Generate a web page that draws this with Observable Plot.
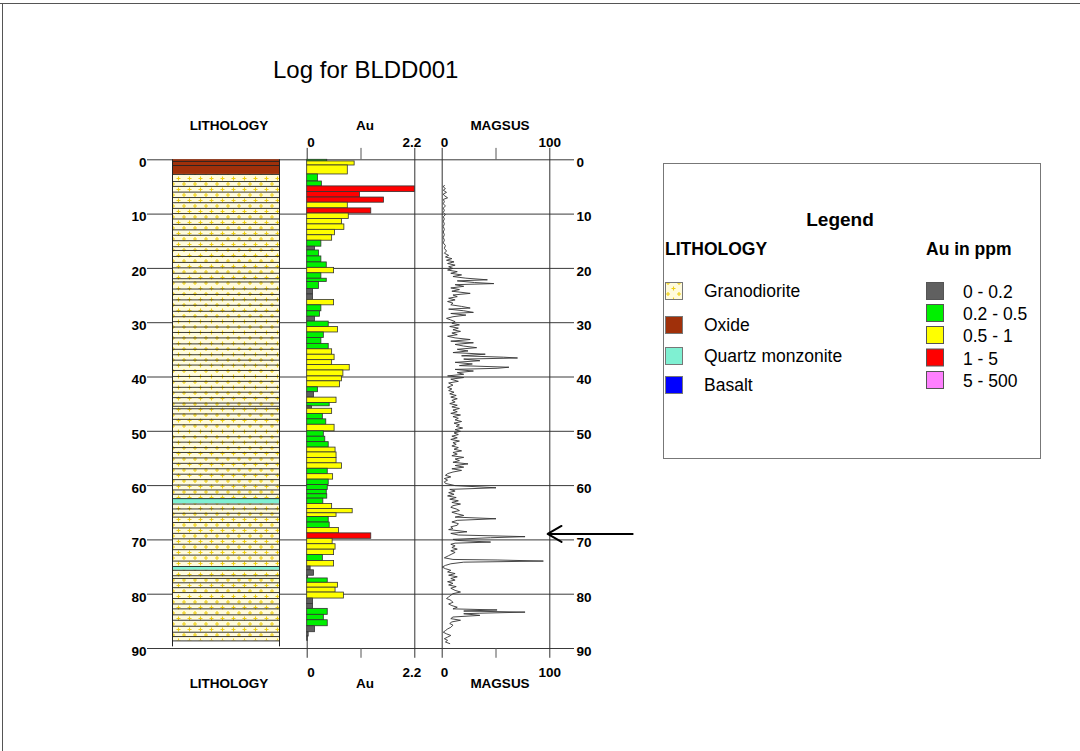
<!DOCTYPE html>
<html>
<head>
<meta charset="utf-8">
<script src="https://cdn.jsdelivr.net/npm/d3@7"></script>
<script src="https://cdn.jsdelivr.net/npm/@observablehq/plot@0.6"></script>
<style>
  body { margin: 0; background: #fff; font-family: "Liberation Sans", Arial, sans-serif; }
  #wrap { position: relative; width: 1080px; height: 751px; overflow: hidden; background: #fff; }
  #wrap > svg { position: absolute; left: 0; top: 0; }
</style>
</head>
<body>
<div id="wrap"></div>
<script>
// ---------------- DATA ----------------
const chartTitle = "Log for BLDD001";
const depthTicks = [0, 10, 20, 30, 40, 50, 60, 70, 80, 90];
const columnTitles = ["LITHOLOGY", "Au", "MAGSUS"];

// Au assays: [from (m), to (m), Au ppm]
const auIntervals = [
  [0, 0.3, 0.41], [0.3, 1.05, 0.97], [1.05, 2.7, 0.83], [2.7, 4.0, 0.22], [4.0, 4.9, 0.30],
  [4.9, 5.95, 2.2], [5.95, 6.95, 1.08], [6.95, 7.9, 1.57], [7.9, 8.95, 0.83], [8.95, 9.9, 1.31],
  [9.9, 10.9, 0.85], [10.9, 11.9, 0.71], [11.9, 12.9, 0.76], [12.9, 13.9, 0.57], [13.9, 14.9, 0.51],
  [14.9, 16.0, 0.29], [16.0, 16.7, 0.16], [16.7, 17.8, 0.24], [17.8, 18.9, 0.29], [18.9, 19.9, 0.40],
  [19.9, 20.9, 0.55], [20.9, 21.9, 0.29], [21.9, 22.5, 0.40], [22.5, 23.8, 0.24], [23.8, 24.8, 0.12],
  [24.8, 25.8, 0.12], [25.8, 26.8, 0.55], [26.8, 27.9, 0.29], [27.9, 28.9, 0.26], [28.9, 29.8, 0.16],
  [29.8, 30.8, 0.44], [30.8, 31.8, 0.63], [31.8, 32.8, 0.34], [32.8, 33.9, 0.29], [33.9, 34.9, 0.44],
  [34.9, 35.9, 0.51], [35.9, 36.9, 0.56], [36.9, 37.8, 0.51], [37.8, 38.8, 0.87], [38.8, 39.9, 0.74],
  [39.9, 40.8, 0.71], [40.8, 41.9, 0.67], [41.9, 42.8, 0.22], [42.8, 43.8, 0.14], [43.8, 44.8, 0.60],
  [44.8, 45.4, 0.46], [45.4, 45.85, 0.10], [45.85, 46.8, 0.51], [46.8, 47.8, 0.32], [47.8, 48.8, 0.39],
  [48.8, 50.0, 0.56], [50.0, 51.0, 0.34], [51.0, 52.0, 0.37], [52.0, 53.0, 0.44], [53.0, 53.9, 0.58],
  [53.9, 54.9, 0.60], [54.9, 55.9, 0.60], [55.9, 56.9, 0.71], [56.9, 57.9, 0.42], [57.9, 58.9, 0.53],
  [58.9, 59.9, 0.44], [59.9, 60.8, 0.42], [60.8, 61.6, 0.40], [61.6, 62.4, 0.41], [62.4, 63.4, 0.33],
  [63.4, 64.3, 0.51], [64.3, 65.1, 0.93], [65.1, 65.8, 0.60], [65.8, 66.8, 0.44], [66.8, 67.8, 0.46],
  [67.8, 68.8, 0.65], [68.8, 69.8, 1.31], [69.8, 70.8, 0.52], [70.8, 71.8, 0.58], [71.8, 72.8, 0.55],
  [72.8, 73.9, 0.32], [73.9, 74.9, 0.55], [74.9, 75.6, 0.07], [75.6, 76.6, 0.14], [76.6, 77.1, 0.02],
  [77.1, 77.9, 0.42], [77.9, 78.8, 0.63], [78.8, 79.7, 0.58], [79.7, 80.8, 0.75], [80.8, 81.8, 0.12],
  [81.8, 82.7, 0.12], [82.7, 83.8, 0.42], [83.8, 84.8, 0.34], [84.8, 85.9, 0.42], [85.9, 87.0, 0.16],
  [87.0, 87.8, 0.03], [87.8, 88.6, 0.01]
];

// Lithology units: [from, to, rock]
const lithoUnits = [
  [0, 2.7, "Oxide"], [2.7, 62.4, "Granodiorite"], [62.4, 63.4, "Quartz monzonite"],
  [63.4, 74.9, "Granodiorite"], [74.9, 75.6, "Quartz monzonite"], [75.6, 88.6, "Granodiorite"]
];
const holeDepth = 89.7;

// Magnetic susceptibility trace: [depth (m), MAGSUS]
const magsus = [
  [4.7,2],[5.0,1],[5.3,3],[5.6,1],[6.0,4],[6.3,1],[6.6,2],[7.0,5],[7.3,1],[7.7,2],[8.1,1],[8.5,3],
  [8.9,1],[9.3,2],[9.7,1],[10.1,3],[10.5,1],[10.9,2],[11.3,1],[11.8,2],[12.3,1],[12.8,2],[13.3,1],
  [13.8,2],[14.3,1],[14.8,2],[15.3,1],[15.8,3],[16.3,2],[16.8,4],[17.2,2],[17.6,6],[17.9,3],[18.2,9],
  [18.5,4],[18.8,11],[19.1,5],[19.4,12],[19.7,6],[20.0,10],[20.3,5],[20.6,14],[20.9,8],[21.2,18],
  [21.5,10],[21.8,22],[22.1,42],[22.3,14],[22.6,30],[22.8,48],[23.0,12],[23.3,20],[23.6,8],[23.9,16],
  [24.2,9],[24.6,26],[24.9,10],[25.2,14],[25.5,6],[25.8,12],[26.1,5],[26.4,10],[26.7,8],[27.0,18],
  [27.3,26],[27.5,6],[27.8,20],[28.1,29],[28.3,8],[28.6,22],[28.9,10],[29.2,4],[29.5,8],[29.8,12],
  [30.1,9],[30.4,16],[30.7,7],[31.0,15],[31.3,10],[31.6,17],[31.9,9],[32.2,14],[32.5,5],[32.8,12],
  [33.1,26],[33.4,8],[33.7,29],[34.0,12],[34.3,20],[34.6,32],[34.9,14],[35.2,24],[35.5,10],[35.8,40],
  [36.1,18],[36.35,57],[36.5,70],[36.7,20],[37.0,35],[37.3,12],[37.6,28],[37.9,16],[38.2,62],[38.4,51],
  [38.6,12],[38.9,29],[39.2,14],[39.5,20],[39.8,5],[40.1,20],[40.4,8],[40.8,15],[41.1,6],[41.5,10],
  [41.9,5],[42.2,9],[42.5,6],[42.8,11],[43.1,7],[43.4,13],[43.7,8],[44.0,14],[44.3,9],[44.6,12],
  [44.9,7],[45.2,14],[45.5,9],[45.8,16],[46.1,10],[46.4,14],[46.7,8],[47.0,17],[47.3,10],[47.6,15],
  [47.9,12],[48.2,18],[48.5,11],[48.8,16],[49.1,13],[49.4,19],[49.7,12],[50.0,17],[50.3,11],[50.6,15],
  [50.9,9],[51.2,14],[51.5,8],[51.8,16],[52.1,10],[52.4,13],[52.7,9],[53.0,15],[53.3,11],[53.6,18],
  [53.9,10],[54.2,14],[54.5,9],[54.8,20],[55.1,12],[55.4,16],[55.7,10],[56.0,24],[56.3,12],[56.6,20],
  [56.9,9],[57.2,18],[57.5,10],[57.8,5],[58.1,3],[58.4,8],[58.7,2],[59.0,5],[59.3,2],[59.6,3],
  [60.0,12],[60.4,50],[60.7,7],[61.0,12],[61.3,6],[61.6,11],[61.9,5],[62.2,13],[62.5,7],[62.8,15],
  [63.1,9],[63.4,17],[63.7,10],[64.0,8],[64.3,13],[64.6,16],[64.9,9],[65.2,14],[65.5,20],[65.8,12],
  [66.1,50],[66.4,14],[66.7,9],[67.0,15],[67.3,14],[67.6,8],[67.9,10],[68.1,6],[68.5,23],[68.8,8],
  [69.1,15],[69.4,77],[69.6,45],[69.9,10],[70.1,14],[70.4,45],[70.6,12],[70.8,8],[71.1,12],[71.4,9],
  [71.7,14],[72.0,8],[72.3,12],[72.6,9],[72.9,6],[73.3,2],[73.6,10],[73.7,51],[73.9,94],[74.1,20],
  [74.4,8],[74.7,3],[75.0,0],[75.3,3],[75.6,8],[75.9,5],[76.2,12],[76.5,6],[76.8,14],[77.1,8],
  [77.4,12],[77.7,5],[78.0,10],[78.3,6],[78.6,13],[78.9,8],[79.3,12],[79.6,17],[79.9,10],[80.2,8],
  [80.5,6],[80.8,4],[81.1,8],[81.5,10],[81.8,6],[82.1,9],[82.4,14],[82.7,10],[82.9,51],[83.1,20],
  [83.3,77],[83.5,35],[83.6,20],[83.9,35],[84.2,10],[84.5,8],[84.8,17],[85.1,9],[85.4,7],[85.7,10],
  [86.1,8],[86.4,5],[86.7,3],[87.0,1],[87.3,4],[87.6,8],[87.9,5],[88.2,2],[88.5,5],[88.8,3],[89.1,7]
];

const auTicks = [0, 1.1, 2.2];
const magTicks = [0, 50, 100];
const arrowDepth = [68.9];
const arrowFromTo = [177, 98];   // in MAGSUS units

const lithoNames = ["Granodiorite", "Oxide", "Quartz monzonite", "Basalt"];
const lithoFills = ["url(#grano)", "#a0300a", "#7ff0d2", "#0000ff"];
const auClassLabels = ["0 - 0.2", "0.2 - 0.5", "0.5 - 1", "1 - 5", "5 - 500"];
const auBreaks = [0.2, 0.5, 1, 5];
const auColors = ["#606060", "#00f000", "#ffff00", "#ff0000", "#ff80ff"];

// ---------------- LAYOUT ----------------
const W = 1080, H = 751;
const FONT = "'Liberation Sans', Arial, sans-serif";
const wrap = document.getElementById("wrap");

// decoration svg: pattern defs, title, border, legend
const deco = d3.create("svg").attr("width", W).attr("height", H).attr("font-family", FONT);
const pat = deco.append("defs").append("pattern").attr("id", "grano")
  .attr("patternUnits", "userSpaceOnUse").attr("width", 11).attr("height", 11);
pat.append("rect").attr("width", 11).attr("height", 11).attr("fill", "#fffbdc");
pat.append("path").attr("d", "M2.5 0.5v4M0.5 2.5h4M8 6v4M6 8h4")
  .attr("stroke", "#f0d010").attr("stroke-width", 1.1).attr("fill", "none");
deco.append("line").attr("x1", 0).attr("x2", W).attr("y1", 3.5).attr("y2", 3.5).attr("stroke", "#555");
deco.append("line").attr("x1", 2.5).attr("x2", 2.5).attr("y1", 3).attr("y2", H).attr("stroke", "#555");
deco.append("text").attr("x", 273).attr("y", 78).attr("font-size", 24).attr("fill", "#000").text(chartTitle);

// legend box
const lg = deco.append("g");
lg.append("rect").attr("x", 663.5).attr("y", 163.5).attr("width", 377).attr("height", 295)
  .attr("fill", "#fff").attr("stroke", "#777");
lg.append("text").attr("x", 840).attr("y", 226).attr("text-anchor", "middle")
  .attr("font-size", 19).attr("font-weight", "bold").text("Legend");
lg.append("text").attr("x", 665).attr("y", 255).attr("font-size", 17.5).attr("font-weight", "bold").text("LITHOLOGY");
lg.append("text").attr("x", 926).attr("y", 255).attr("font-size", 17.5).attr("font-weight", "bold").text("Au in ppm");
const lithoY = [282, 316, 347, 376];
lithoNames.forEach((n, i) => {
  lg.append("rect").attr("x", 665.5).attr("y", lithoY[i] + 0.5).attr("width", 17).attr("height", 17)
    .attr("fill", lithoFills[i]).attr("stroke", "#777");
  lg.append("text").attr("x", 704).attr("y", lithoY[i] + 15).attr("font-size", 17.5).text(n);
});
const auY = [282, 304, 326, 348.5, 371];
auClassLabels.forEach((n, i) => {
  lg.append("rect").attr("x", 926.5).attr("y", auY[i] + 0.5).attr("width", 17).attr("height", 17)
    .attr("fill", auColors[i]).attr("stroke", "#555");
  lg.append("text").attr("x", 963).attr("y", auY[i] + 16).attr("font-size", 17.5).text(n);
});
wrap.appendChild(deco.node());

const base = (ml, mr, xdom) => ({
  width: W, height: H,
  marginTop: 159.3, marginBottom: 103, marginLeft: ml, marginRight: mr,
  x: {domain: xdom, axis: null},
  y: {domain: [0, 90], reverse: true, axis: null},
  style: {background: "transparent", fontFamily: FONT, overflow: "visible", color: "#000"}
});
function add(p) { p.style.position = "absolute"; p.style.left = "0px"; p.style.top = "0px"; wrap.appendChild(p); }
const txt = {fontWeight: "bold", fontSize: 13.5, fill: "#000"};
const lab = {...txt, lineAnchor: "middle"};

// depth grid + labels
add(Plot.plot({
  ...base(147, 506, [0, 1]),
  marks: [
    Plot.ruleY(depthTicks, {stroke: "#3a3a3a", strokeWidth: 1}),
    Plot.axisY(depthTicks, {anchor: "left", tickSize: 0, tickPadding: 1, label: null, dy: 3, ...txt}),
    Plot.axisY(depthTicks, {anchor: "right", tickSize: 0, tickPadding: 2, label: null, dy: 3, ...txt})
  ]
}));

// lithology column
const sampleBounds = auIntervals.map(d => d[0]).concat([auIntervals[auIntervals.length - 1][1]]).filter(d => d > 0);
add(Plot.plot({
  ...base(172, 801, [0, 1]),
  color: {domain: lithoNames, range: lithoFills},
  marks: [
    Plot.rect(lithoUnits, {x1: () => 0, x2: () => 1, y1: d => d[0], y2: d => d[1], fill: d => d[2]}),
    Plot.ruleY(sampleBounds, {stroke: "#222", strokeWidth: 0.9}),
    Plot.ruleX([0, 1], {y1: () => 0, y2: () => holeDepth, stroke: "#222"}),
    Plot.text([columnTitles[0]], {frameAnchor: "top", dy: -34.6, dx: 3, text: d => d, ...lab}),
    Plot.text([columnTitles[0]], {frameAnchor: "bottom", dy: 35, dx: 3, text: d => d, ...lab})
  ]
}));

// Au column
const auEnds = [auTicks[0], auTicks[auTicks.length - 1]];
add(Plot.plot({
  ...base(306.7, 665.7, [0, 2.2]),
  color: {type: "threshold", domain: auBreaks, range: auColors},
  marks: [
    Plot.ruleX(auEnds, {y1: () => -2.1, y2: () => 91.8, stroke: "#333"}),
    Plot.ruleX([auTicks[1]], {y1: () => -2.1, y2: () => 0, stroke: "#555"}),
    Plot.ruleX([auTicks[1]], {y1: () => 90, y2: () => 91.8, stroke: "#555"}),
    Plot.rect(auIntervals, {x1: () => 0, x2: d => d[2], y1: d => d[0], y2: d => d[1], fill: d => d[2], stroke: "#333", strokeWidth: 0.8}),
    Plot.text([auEnds[0]], {x: d => d, frameAnchor: "top", dy: -17.6, textAnchor: "start", text: d => String(d), ...lab}),
    Plot.text([auEnds[1]], {x: d => d, frameAnchor: "top", dy: -17.6, dx: -3, text: d => String(d), ...lab}),
    Plot.text([auEnds[0]], {x: d => d, frameAnchor: "bottom", dy: 23.7, textAnchor: "start", text: d => String(d), ...lab}),
    Plot.text([auEnds[1]], {x: d => d, frameAnchor: "bottom", dy: 23.7, dx: -3, text: d => String(d), ...lab}),
    Plot.text([columnTitles[1]], {frameAnchor: "top", dy: -34.6, dx: 4, text: d => d, ...lab}),
    Plot.text([columnTitles[1]], {frameAnchor: "bottom", dy: 35, dx: 4, text: d => d, ...lab})
  ]
}));

// MAGSUS column
const magEnds = [magTicks[0], magTicks[magTicks.length - 1]];
add(Plot.plot({
  ...base(441.7, 530.7, [0, 100]),
  marks: [
    Plot.ruleX(magEnds, {y1: () => -2.1, y2: () => 91.8, stroke: "#333"}),
    Plot.ruleX([magTicks[1]], {y1: () => -2.1, y2: () => 0, stroke: "#555"}),
    Plot.ruleX([magTicks[1]], {y1: () => 90, y2: () => 91.8, stroke: "#555"}),
    Plot.line(magsus, {x: d => d[1], y: d => d[0], stroke: "#333", strokeWidth: 0.9}),
    Plot.arrow(arrowDepth, {x1: () => arrowFromTo[0], x2: () => arrowFromTo[1], y1: d => d, y2: d => d,
      stroke: "#000", strokeWidth: 2, headLength: 12}),
    Plot.text([magEnds[0]], {x: d => d, frameAnchor: "top", dy: -17.6, dx: -1.5, textAnchor: "start", text: d => String(d), ...lab}),
    Plot.text([magEnds[1]], {x: d => d, frameAnchor: "top", dy: -17.6, text: d => String(d), ...lab}),
    Plot.text([magEnds[0]], {x: d => d, frameAnchor: "bottom", dy: 23.7, dx: -1.5, textAnchor: "start", text: d => String(d), ...lab}),
    Plot.text([magEnds[1]], {x: d => d, frameAnchor: "bottom", dy: 23.7, text: d => String(d), ...lab}),
    Plot.text([columnTitles[2]], {frameAnchor: "top", dy: -34.6, dx: 4, text: d => d, ...lab}),
    Plot.text([columnTitles[2]], {frameAnchor: "bottom", dy: 35, dx: 4, text: d => d, ...lab})
  ]
}));
</script>
</body>
</html>
